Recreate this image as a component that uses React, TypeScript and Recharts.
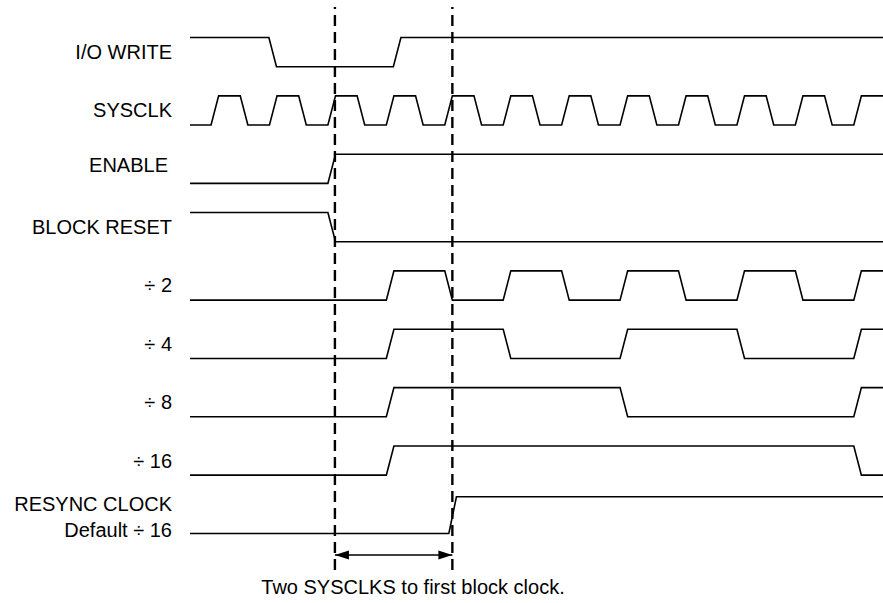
import { LineChart, Line, XAxis, YAxis, ReferenceLine } from 'recharts'

// time is measured in SYSCLK periods, levels are 0 / 1
const T_START = 0.64
const T_END = 12.5
const SLEW = 0.13

const signalNames = [
  'I/O WRITE',
  'SYSCLK',
  'ENABLE',
  'BLOCK RESET',
  '÷ 2',
  '÷ 4',
  '÷ 8',
  '÷ 16',
  'RESYNC CLOCK',
]
const startLevels = [1, 0, 0, 1, 0, 0, 0, 0, 0]

const ioWriteEdges = [1.99, 4.12]
const sysclkEdges = [1, 1.5, 2, 2.5, 3, 3.5, 4, 4.5, 5, 5.5, 6, 6.5, 7, 7.5, 8, 8.5, 9, 9.5, 10, 10.5, 11, 11.5, 12]
const enableEdges = [3]
const blockResetEdges = [3]
const div2Edges = [4, 5, 6, 7, 8, 9, 10, 11, 12]
const div4Edges = [4, 6, 8, 10, 12]
const div8Edges = [4, 8, 12]
const div16Edges = [4, 12]
const resyncEdges = [5.07]

const markerTimes = [3.12, 5.13]
const caption = 'Two SYSCLKS to first block clock.'

const allEdges = [
  ioWriteEdges,
  sysclkEdges,
  enableEdges,
  blockResetEdges,
  div2Edges,
  div4Edges,
  div8Edges,
  div16Edges,
  resyncEdges,
]

const FONT = "'Liberation Sans', Arial, sans-serif"

// row i sits at -i, a high level is "swing" above its row
function wave(row: number, start: number, edges: number[], swing: number) {
  let lvl = start
  const pts = [{ t: T_START, v: -row + lvl * swing }]
  edges.forEach(e => {
    pts.push({ t: e, v: -row + lvl * swing })
    lvl = 1 - lvl
    pts.push({ t: e + SLEW, v: -row + lvl * swing })
  })
  pts.push({ t: T_END, v: -row + lvl * swing })
  return pts
}

const waves = allEdges.map((edges, i) => wave(i, startLevels[i], edges, i === 8 ? 0.63 : 0.5))
const labelTicks = signalNames.map((_, i) => (i === 8 ? -8 : -i + 0.25))

const arrowData = markerTimes.map(t => ({ t, v: -8.37 }))

function LabelTick(props: any) {
  const { x, y, payload } = props
  const i = labelTicks.findIndex(v => Math.abs(v - payload.value) < 1e-6)
  const common = { textAnchor: 'end' as const, fontSize: 20, fontFamily: FONT, fill: '#000' }
  if (i === 8) {
    return (
      <g>
        <text x={x} y={y - 29} dy="0.35em" {...common}>{signalNames[i]}</text>
        <text x={x} y={y - 3} dy="0.35em" {...common}>Default ÷ 16</text>
      </g>
    )
  }
  // ENABLE sits a little left and up in the original
  const nudge = i === 2 ? { x: -4, y: -3.5 } : { x: 0, y: 0 }
  return (
    <text x={x + nudge.x} y={y + nudge.y} dy="0.35em" {...common}>{signalNames[i]}</text>
  )
}

function ArrowHead(props: any) {
  const { cx, cy, index } = props
  const d = index === 0 ? 1 : -1
  return (
    <path
      key={index}
      d={`M${cx},${cy} L${cx + d * 14},${cy - 4.5} L${cx + d * 14},${cy + 4.5} Z`}
      fill="#000"
    />
  )
}

export default function App() {
  return (
    <div style={{ position: 'absolute', left: 0, top: 0, width: 883, height: 603, background: '#fff' }}>
      <LineChart width={883} height={603} margin={{ top: 7, right: 0, bottom: 33, left: 0 }}>
        <XAxis type="number" dataKey="t" domain={[T_START, T_END]} allowDataOverflow hide />
        <YAxis
          type="number"
          domain={[-8.626, 1.023]}
          allowDataOverflow
          width={190}
          ticks={labelTicks}
          interval={0}
          axisLine={false}
          tickLine={false}
          tickSize={0}
          tickMargin={18}
          tick={<LabelTick />}
        />
        {markerTimes.map(t => (
          <ReferenceLine key={t} x={t} stroke="#000" strokeWidth={2.4} strokeDasharray="11 6" />
        ))}
        {waves.map((w, i) => (
          <Line
            key={i}
            data={w}
            dataKey="v"
            type="linear"
            stroke="#000"
            strokeWidth={1.6}
            dot={false}
            isAnimationActive={false}
          />
        ))}
        <Line
          data={arrowData}
          dataKey="v"
          type="linear"
          stroke="#000"
          strokeWidth={1.6}
          dot={<ArrowHead />}
          isAnimationActive={false}
        />
      </LineChart>
      <div
        style={{
          position: 'absolute',
          left: 0,
          width: 826,
          top: 577,
          textAlign: 'center',
          fontFamily: FONT,
          fontSize: 20,
          lineHeight: '20px',
          color: '#000',
        }}
      >
        {caption}
      </div>
    </div>
  )
}
